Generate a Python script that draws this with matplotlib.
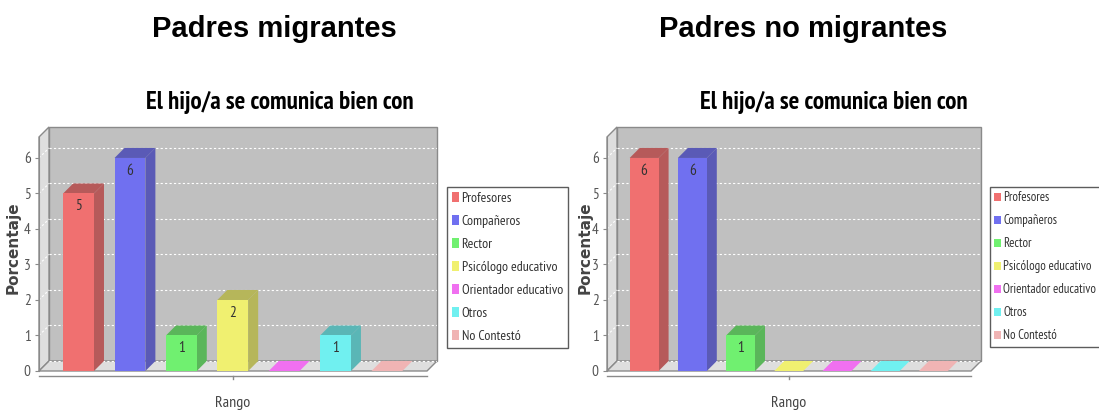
import matplotlib

matplotlib.use("Agg")
import matplotlib.pyplot as plt
from matplotlib.font_manager import FontProperties
from matplotlib.patches import Polygon, Rectangle, Patch

categories = ["Profesores", "Compañeros", "Rector", "Psicólogo educativo",
              "Orientador educativo", "Otros", "No Contestó"]
migrantes = [5, 6, 1, 2, 0, 1, 0]
no_migrantes = [6, 6, 1, 0, 0, 0, 0]
yticks = [0, 1, 2, 3, 4, 5, 6]

face_colors = ["#f07070", "#7070f0", "#70f070", "#f0f070", "#f070f0", "#70f0f0", "#f0b4b4"]
dark_colors = ["#b65a5a", "#5a5ab6", "#5ab65a", "#b6b65a", "#b65ab6", "#5ab6b6", "#d0a0a0"]


def narrow(size):
    return FontProperties(family="PT Sans Narrow", size=size)


W, H = 1099, 412
PX_UNIT = 35.5          # pixels per value unit
DEPTH = 10              # 3d offset in pixels
X0, X1 = -0.77, 6.78    # front floor extent in category units
YTOP = 6.59             # top of front plane in value units

fig = plt.figure(figsize=(W / 100, H / 100), dpi=100)


def px_axes(left, top, right, bottom):
    return fig.add_axes([left / W, 1 - bottom / H, (right - left) / W, (bottom - top) / H])


def draw_chart(left, right, values, title, subtitle, title_x, sub_x, ylab_x, legend_x, legend_size):
    ax = px_axes(left, 127, right, 377)
    cat_px = (X1 - X0) / (right - left - DEPTH)
    dx = DEPTH * cat_px
    dy = DEPTH / PX_UNIT
    ax.set_xlim(X0, X1 + dx)
    ax.set_ylim(-6 / PX_UNIT, YTOP + dy)
    ax.patch.set_visible(False)

    # walls and floor
    ax.add_patch(Rectangle((X0 + dx, dy), X1 - X0, YTOP, fc="#c0c0c0", ec="#8a8a8a",
                           lw=1, clip_on=False, zorder=0))
    ax.add_patch(Polygon([(X0, 0), (X0 + dx, dy), (X0 + dx, YTOP + dy), (X0, YTOP)],
                         fc="#dedede", ec="#8a8a8a", lw=1, clip_on=False, zorder=0))
    ax.add_patch(Polygon([(X0, 0), (X1, 0), (X1 + dx, dy), (X0 + dx, dy)],
                         fc="#dedede", ec="#8a8a8a", lw=1, clip_on=False, zorder=0))
    for t in yticks:
        ax.plot([X0 + dx, X1 + dx], [t + dy, t + dy], color="white", lw=0.8,
                ls=(0, (2, 2)), zorder=1)
        if t > 0:
            ax.plot([X0, X0 + dx], [t, t + dy], color="white", lw=0.8, ls=(0, (2, 2)), zorder=1)

    bw = 0.6
    for i, v in enumerate(values):
        xl, xr = i - bw / 2, i + bw / 2
        if v > 0:
            ax.add_patch(Polygon([(xr, 0), (xr + dx, dy), (xr + dx, v + dy), (xr, v)],
                                 fc=dark_colors[i], ec="none", zorder=3))
            ax.add_patch(Polygon([(xl, v), (xr, v), (xr + dx, v + dy), (xl + dx, v + dy)],
                                 fc=dark_colors[i], ec="none", zorder=3))
            ax.add_patch(Rectangle((xl, 0), bw, v, fc=face_colors[i], ec="none", zorder=4))
            ax.text(i, v - 13 / PX_UNIT, str(v), ha="center", va="center",
                    fontproperties=narrow(11), color="#333333", zorder=5)
        else:
            ax.add_patch(Polygon([(xl, 0), (xr, 0), (xr + dx, dy), (xl + dx, dy)],
                                 fc=face_colors[i], ec="none", zorder=3))

    # axes lines
    for s in ["top", "right", "bottom"]:
        ax.spines[s].set_visible(False)
    ax.spines["left"].set_bounds(0, YTOP)
    ax.spines["left"].set_color("#8a8a8a")
    ax.spines["left"].set_position(("data", X0))
    ax.set_yticks(yticks)
    ax.set_yticklabels([str(t) for t in yticks], fontproperties=narrow(11), color="#555555")
    ax.tick_params(axis="y", length=3, color="#8a8a8a", pad=3)
    ax.set_xticks([])
    xline = -5 / PX_UNIT
    ax.plot([X0, X1], [xline, xline], color="#8a8a8a", lw=1, clip_on=False)
    ax.plot([3, 3], [xline, xline - 3 / PX_UNIT], color="#8a8a8a", lw=1, clip_on=False)

    fig.text(title_x / W, 1 - 29 / H, title, ha="center", va="center", fontsize=21,
             fontweight="bold", family="Liberation Sans")
    fig.text(sub_x / W, 1 - 102 / H, subtitle, ha="center", va="center", fontsize=18,
             fontweight="bold", family="PT Sans Narrow")
    fig.text(ylab_x / W, 1 - 248 / H, "Porcentaje", rotation=90, ha="center", va="center",
             fontsize=11, fontweight="bold", color="#444444", family="DejaVu Sans")
    mid = left + (3 - X0) / cat_px
    fig.text(mid / W, 1 - 403 / H, "Rango", ha="center", va="center",
             fontproperties=narrow(11.5), color="#444444")

    handles = [Patch(fc=c, ec="none") for c in face_colors]
    leg = fig.legend(handles, categories, loc="upper left",
                     bbox_to_anchor=(legend_x / W, 1 - 187 / H), prop=narrow(legend_size),
                     frameon=True, fancybox=False, handlelength=0.5, handleheight=0.7,
                     handletextpad=0.2, labelspacing=0.72 * 10 / legend_size, borderpad=0.35,
                     borderaxespad=0)
    leg.get_frame().set_edgecolor("#333333")
    leg.get_frame().set_linewidth(1)
    for t in leg.get_texts():
        t.set_color("#333333")
    return ax


draw_chart(39, 437, migrantes, "Padres migrantes", "El hijo/a se comunica bien con",
           274, 280, 13, 447, 10)
draw_chart(607, 981, no_migrantes, "Padres no migrantes", "El hijo/a se comunica bien con",
           803, 834, 585, 990, 9.2)

fig.savefig("out.png", dpi=100)
